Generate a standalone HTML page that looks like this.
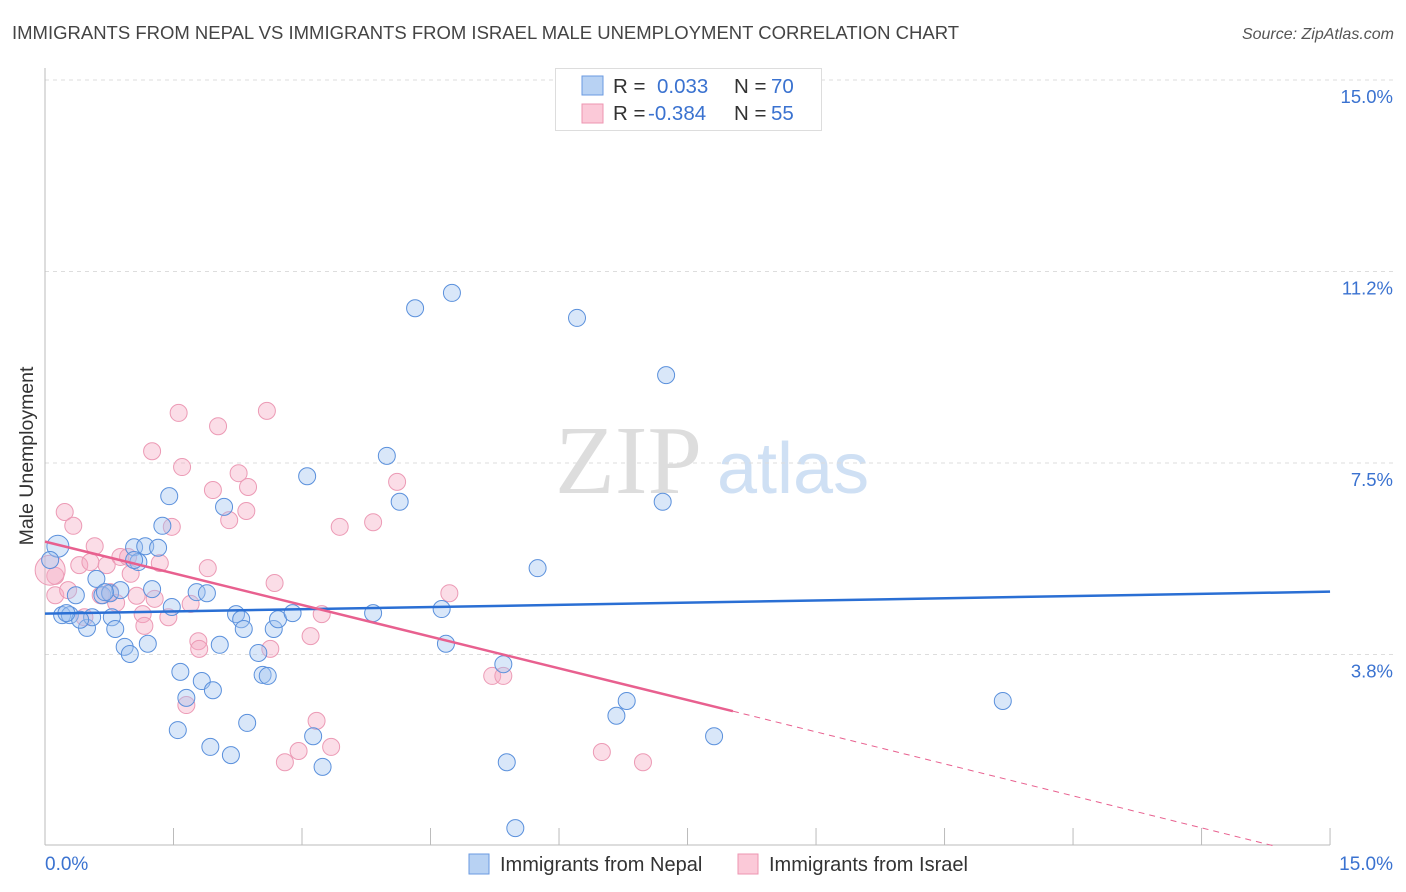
<!DOCTYPE html>
<html><head><meta charset="utf-8"><style>
body{margin:0;background:#fff;font-family:"Liberation Sans",sans-serif}
svg{display:block}
</style></head><body>
<svg id="c" width="1406" height="892" xmlns="http://www.w3.org/2000/svg">
<text x="12" y="39" font-size="18.5" fill="#444">IMMIGRANTS FROM NEPAL VS IMMIGRANTS FROM ISRAEL MALE UNEMPLOYMENT CORRELATION CHART</text>
<text x="1394" y="39" font-size="16" fill="#555" font-style="italic" text-anchor="end">Source: ZipAtlas.com</text>
<text x="555" y="493" font-size="98" fill="#ddd" font-family="Liberation Serif,serif">ZIP</text>
<text x="717" y="493" font-size="72" fill="#cfe0f4">atlas</text>
<g id="grid"></g>
<line x1="45" y1="68" x2="45" y2="845" stroke="#bbb"/>
<line x1="45" y1="845" x2="1330" y2="845" stroke="#bbb"/>
<text x="33" y="456" font-size="19.5" fill="#333" transform="rotate(-90 33 456)" text-anchor="middle">Male Unemployment</text>
<text x="45" y="870" font-size="19" fill="#3a72d0">0.0%</text>
<text x="1393" y="870" font-size="19" fill="#3a72d0" text-anchor="end">15.0%</text>
<g id="pts"></g>
<g id="trends"></g>
<g>
<rect x="555.5" y="68.5" width="266" height="62" fill="#fff" stroke="#ddd"/>
<rect x="582" y="76" width="21" height="19" fill="#b8d2f3" stroke="#6a9ae0"/>
<rect x="582" y="104" width="21" height="19" fill="#fbc9d8" stroke="#ee95b1"/>
<text y="93" font-size="20.5"><tspan x="613" fill="#333">R = </tspan><tspan x="657" fill="#3a72d0">0.033</tspan><tspan x="734" fill="#333">N = </tspan><tspan x="771" fill="#3a72d0">70</tspan></text>
<text y="120" font-size="20.5"><tspan x="613" fill="#333">R = </tspan><tspan x="648" fill="#3a72d0">-0.384</tspan><tspan x="734" fill="#333">N = </tspan><tspan x="771" fill="#3a72d0">55</tspan></text>
</g>
<g>
<rect x="469" y="854" width="20" height="20" fill="#b8d2f3" stroke="#6a9ae0"/>
<text x="500" y="871" font-size="20" fill="#333">Immigrants from Nepal</text>
<rect x="738" y="854" width="20" height="20" fill="#fbc9d8" stroke="#ee95b1"/>
<text x="769" y="871" font-size="20" fill="#333">Immigrants from Israel</text>
</g>
</svg>
<script>
const yTicks=[3.75,7.5,11.25,15];
const yTickLabels=["3.8%","7.5%","11.2%","15.0%"];
const xTicks=[1.5,3,4.5,6,7.5,9,10.5,12,13.5,15];
const nepalX=[.15,.06,.20,.29,.49,.60,.36,.67,.78,.82,.93,.99,1.20,1.25,1.45,1.37,1.04,1.17,1.32,1.09,1.48,1.58,1.65,1.55,1.77,1.89,1.83,1.96,1.93,2.04,2.09,2.17,2.23,2.29,2.32,2.36,2.49,2.54,2.60,2.67,2.72,2.89,3.06,3.13,3.24,3.83,3.99,4.14,4.32,4.75,4.63,4.68,5.35,5.39,5.49,5.75,6.21,6.67,6.79,7.21,7.25,7.81,11.18,.55,.41,.76,.88,1.04,.25,.70];
const nepalY=[5.87,5.60,4.52,4.52,4.27,5.23,4.91,4.91,4.48,4.25,3.90,3.76,3.96,5.03,6.85,6.27,5.85,5.87,5.84,5.56,4.68,3.41,2.90,2.27,4.97,4.95,3.23,3.05,1.94,3.94,6.64,1.78,4.54,4.44,4.25,2.41,3.78,3.35,3.33,4.25,4.44,4.56,7.24,2.15,1.55,4.56,7.64,6.74,10.53,10.83,4.64,3.96,3.56,1.64,0.35,5.44,10.34,2.55,2.84,6.74,9.22,2.15,2.84,4.48,4.43,4.95,5.01,5.60,4.56,4.97];
const israelX=[.23,.33,.58,.40,.53,.72,.88,.97,1.00,1.34,.12,.12,.27,.46,.65,.76,.83,1.07,1.14,1.16,1.25,1.28,1.44,1.48,1.56,1.60,1.70,1.79,1.80,1.65,1.90,1.96,2.02,2.15,2.26,2.35,2.37,2.59,2.63,2.68,2.80,2.96,3.10,3.17,3.23,3.34,3.44,3.83,4.11,4.72,5.22,5.35,6.50,6.98,.06];
const israelY=[6.54,6.27,5.87,5.50,5.56,5.50,5.66,5.66,5.33,5.54,5.29,4.91,5.01,4.48,4.91,4.97,4.76,4.90,4.54,4.31,7.73,4.84,4.48,6.25,8.48,7.42,4.74,4.01,3.86,2.76,5.44,6.97,8.22,6.38,7.30,6.56,7.03,8.52,3.86,5.15,1.64,1.86,4.11,2.45,4.54,1.94,6.25,6.34,7.13,4.95,3.33,3.33,1.84,1.64,5.40];
const nepalTrend=[4.55,4.98];
const israelTrend=[5.96,2.64,8.03,14.35];
const X=v=>45+v*85.67, Y=v=>846-v*51.07;
const NS="http://www.w3.org/2000/svg";
function mk(t,a,p){const e=document.createElementNS(NS,t);for(const k in a)e.setAttribute(k,a[k]);p.appendChild(e);return e;}
const grid=document.getElementById('grid');
yTicks.forEach((v,i)=>{
 const l=mk('line',{x1:45,x2:1393,y1:Y(v),y2:Y(v),stroke:'#ddd','stroke-dasharray':'4 4'},grid);
 
 
 const t=mk('text',{x:1393,y:Y(v)+23,'font-size':18.5,fill:'#3a72d0','text-anchor':'end'},grid);
 t.textContent=yTickLabels[i];
 
 
});
xTicks.forEach(v=>{
 const l=mk('line',{x1:X(v),x2:X(v),y1:828,y2:845,stroke:'#bbb'},grid);
 
 
});
const pts=document.getElementById('pts');
israelX.forEach((x,i)=>{
 const c=mk('circle',{cx:X(x),cy:Y(israelY[i]),r:i==54?15:8.5,fill:'rgba(245,170,195,0.4)',stroke:'#ec9ab5','stroke-width':1},pts);
 
 
});
nepalX.forEach((x,i)=>{
 const c=mk('circle',{cx:X(x),cy:Y(nepalY[i]),r:i==0?11:8.5,fill:'rgba(160,195,240,0.4)',stroke:'#5a90dc','stroke-width':1},pts);
 
 
});
const tr=document.getElementById('trends');
const b=mk('line',{x1:X(0),y1:Y(nepalTrend[0]),x2:X(15),y2:Y(nepalTrend[1]),stroke:'#2a6fd4','stroke-width':2.5},tr);


const p=mk('line',{x1:X(0),y1:Y(israelTrend[0]),x2:X(israelTrend[2]),y2:Y(israelTrend[1]),stroke:'#e8608f','stroke-width':2.5},tr);


const d=mk('line',{x1:X(israelTrend[2]),y1:Y(israelTrend[1]),x2:X(israelTrend[3]),y2:Y(0),stroke:'#e8608f','stroke-width':1,'stroke-dasharray':'6 5'},tr);


</script>
</body></html>
